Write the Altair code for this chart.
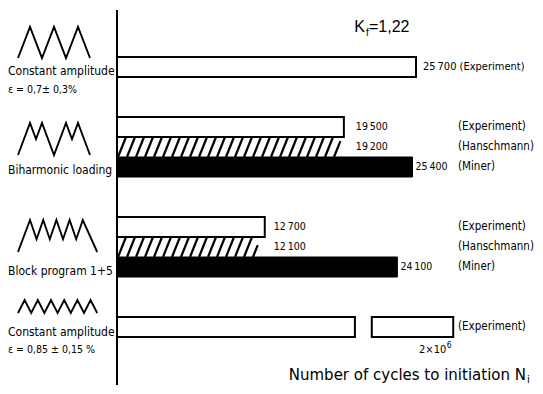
import altair as alt
import pandas as pd

# ---------------- data ----------------
group_names = ["Constant amplitude", "Biharmonic loading", "Block program 1+5", "Constant amplitude"]
group_notes = ["\u03b5 = 0,7\u00b1 0,3%", "", "", "\u03b5 = 0,85 \u00b1 0,15 %"]
series_names = ["Experiment", "Hanschmann", "Miner"]

ca07_cycles = [25700]                       # Experiment
biharmonic_cycles = [19500, 19200, 25400]   # Experiment, Hanschmann, Miner
block_cycles = [12700, 12100, 24100]        # Experiment, Hanschmann, Miner
ca085_mant, ca085_exp = "2\u00d710", "6"    # Experiment: 2x10^6, off scale (broken bar)

kf_text = "=1,22"
x_title_text = "Number of cycles to initiation N"

# load-sequence sketches: (time, relative level)
wave_ca07_t = [0, 2, 4, 6, 8, 10, 12]
wave_ca07_l = [0, 1, 0, 1, 0, 1, 0]
wave_bih_t = [0, 2, 3, 4, 6, 8, 9, 10, 12]
wave_bih_l = [0, 1, 0.5, 1, 0, 1, 0.5, 1, 0]
wave_blk_t = [0, 2, 3.1, 4.2, 5.3, 6.4, 7.5, 8.6, 9.7, 10.8, 13.2]
wave_blk_l = [0, 1, 0.4, 1, 0.4, 1, 0.4, 1, 0.4, 1, 0]
wave_ca085_t = [0, 1.1, 2.2, 3.3, 4.4, 5.5, 6.6, 7.7, 8.8, 9.9, 11, 12.1, 13.2]
wave_ca085_l = [0, 1, 0, 1, 0, 1, 0, 1, 0, 1, 0, 1, 0]

# ---------------- layout ----------------
W, H = 527, 378
PX_PER_CYC = 299 / 25700.0
K = 1 / PX_PER_CYC                 # cycles per pixel
X_SCALE = alt.Scale(domain=[0, 25700], range=[109, 408], nice=False, zero=False)
Y_SCALE = alt.Scale(domain=[0, 14], range=[49, 329], nice=False, zero=False)  # slot units, 20px each
ICON_X = alt.Scale(domain=[0, 13.2], range=[10, 10 + 13.2 * 6], nice=False, zero=False)

group_slot = [0, 3, 8, 13]
break_segments = [(0, 20450), (21900, 28900)]
COND = "DejaVu Sans Condensed, Liberation Sans Narrow, DejaVu Sans"

# ---------------- tables ----------------
bars = []
bars.append(dict(kind="Experiment", x0=0, x1=ca07_cycles[0], s0=group_slot[0], s1=group_slot[0] + 1))
for g, vals in ((1, biharmonic_cycles), (2, block_cycles)):
    for i, (sname, v) in enumerate(zip(series_names, vals)):
        bars.append(dict(kind=sname, x0=0, x1=v, s0=group_slot[g] + i, s1=group_slot[g] + i + 1))
for a, b in break_segments:
    bars.append(dict(kind="Experiment", x0=a, x1=b, s0=group_slot[3], s1=group_slot[3] + 1))
bars = pd.DataFrame(bars)

# hatching for the Hanschmann bars
hatch = []
spacing, slant = 9 * K, 8 * K
for _, r in bars[bars.kind == "Hanschmann"].iterrows():
    val, top, bot = r.x1, r.s0, r.s1
    b = -slant
    while b < val:
        xa, sa, xb, sb = b, bot, b + slant, top
        if xa < 0:
            f = -b / slant
            xa, sa = 0, bot - f * (bot - top)
        if xb > val:
            f = (val - b) / slant
            xb, sb = val, bot - f * (bot - top)
        if xb > xa:
            hatch.append(dict(xa=xa, sa=sa, xb=xb, sb=sb))
        b += spacing
hatch = pd.DataFrame(hatch)

def fmt(v):
    return f"{v:,}".replace(",", "\u2009")

# value labels
vlab = []
for g, vals, off in ((1, biharmonic_cycles, 12), (2, block_cycles, 9)):
    anchor = max(vals[0], vals[1]) + off * K
    vlab.append(dict(text=fmt(vals[0]), xc=anchor, s=group_slot[g] + 0.5))
    vlab.append(dict(text=fmt(vals[1]), xc=anchor, s=group_slot[g] + 1.5))
    vlab.append(dict(text=fmt(vals[2]), xc=vals[2] + 3 * K, s=group_slot[g] + 2.5))
vlab = pd.DataFrame(vlab)
vlab1 = pd.DataFrame([dict(text=f"{fmt(ca07_cycles[0])}  ({series_names[0]})",
                           xc=ca07_cycles[0] + 7 * K, s=group_slot[0] + 0.5)])

# series labels (right-hand column)
slab = []
col = 341 * K
for g in (1, 2):
    for i, sname in enumerate(series_names):
        slab.append(dict(text=f"({sname})", xc=col, s=group_slot[g] + i + 0.5))
slab.append(dict(text=f"({series_names[0]})", xc=col, s=group_slot[3] + 0.5))
slab = pd.DataFrame(slab)

# waveform icons
wave_base = [0.05, 4.9, 9.75, 12.8]
wave_amp = [1.55, 1.6, 1.6, 0.65]
waves = []
for w, (ts, ls) in enumerate([(wave_ca07_t, wave_ca07_l), (wave_bih_t, wave_bih_l),
                              (wave_blk_t, wave_blk_l), (wave_ca085_t, wave_ca085_l)]):
    for i, (t, l) in enumerate(zip(ts, ls)):
        waves.append(dict(w=w, i=i, t=t, s=wave_base[w] - l * wave_amp[w]))
waves = pd.DataFrame(waves)

# left labels
left_names = pd.DataFrame([dict(text=group_names[g], s=s)
                           for g, s in enumerate([0.9, 5.85, 10.9, 13.95])])
left_notes = pd.DataFrame([dict(text=group_notes[g], s=s)
                           for g, s in ((0, 1.8), (3, 14.8))])

axis_df = pd.DataFrame([dict(x=0, s0=-2.35, s1=16.4)])

# ---------------- layers ----------------
xq = lambda f: alt.X(f, type="quantitative", scale=X_SCALE, axis=None)
yq = lambda f: alt.Y(f, type="quantitative", scale=Y_SCALE, axis=None)

exp_layer = alt.Chart(bars[bars.kind == "Experiment"]).mark_rect(
    fill="white", stroke="black", strokeWidth=2).encode(
    x=xq("x0"), x2="x1", y=yq("s0"), y2="s1")
miner_layer = alt.Chart(bars[bars.kind == "Miner"]).mark_rect(
    fill="black", stroke="black", strokeWidth=1).encode(
    x=xq("x0"), x2="x1", y=yq("s0"), y2="s1")
hatch_layer = alt.Chart(hatch).mark_rule(color="black", strokeWidth=2.2).encode(
    x=xq("xa"), x2="xb", y=yq("sa"), y2="sb")
axis_layer = alt.Chart(axis_df).mark_rule(color="black", strokeWidth=2).encode(
    x=xq("x"), y=yq("s0"), y2="s1")

vlab_layer = alt.Chart(vlab).mark_text(
    align="left", baseline="middle", font=COND, fontSize=10.5, color="black").encode(
    x=xq("xc"), y=yq("s"), text="text:N")
vlab1_layer = alt.Chart(vlab1).mark_text(
    align="left", baseline="middle", font=COND, fontSize=11, color="black").encode(
    x=xq("xc"), y=yq("s"), text="text:N")
slab_layer = alt.Chart(slab).mark_text(
    align="left", baseline="middle", font=COND, fontSize=11.5, color="black").encode(
    x=xq("xc"), y=yq("s"), text="text:N")
brk_df = pd.DataFrame([dict(m=ca085_mant, e=ca085_exp, xc=break_segments[1][1], s=group_slot[3] + 1.8)])
brk_mant = alt.Chart(brk_df).mark_text(
    align="right", baseline="alphabetic", font=COND, fontSize=11, color="black", dx=-7).encode(
    x=xq("xc"), y=yq("s"), text="m:N")
brk_exp = alt.Chart(brk_df).mark_text(
    align="left", baseline="alphabetic", font=COND, fontSize=8.5, color="black", dx=-6.5, dy=-5).encode(
    x=xq("xc"), y=yq("s"), text="e:N")

wave_layer = alt.Chart(waves).mark_line(color="black", strokeWidth=1.9, strokeJoin="miter").encode(
    x=alt.X("t:Q", scale=ICON_X, axis=None), y=yq("s"), detail="w:N", order="i:Q")

left_layer = alt.Chart(left_names).mark_text(
    align="left", baseline="alphabetic", font=COND, fontSize=12, color="black").encode(
    x=alt.value(0), y=yq("s"), text="text:N")
note_layer = alt.Chart(left_notes).mark_text(
    align="left", baseline="alphabetic", font=COND, fontSize=10.5, color="black").encode(
    x=alt.value(0), y=yq("s"), text="text:N")

def ann(text, x, y, size, align="left", font="Liberation Sans"):
    return alt.Chart(pd.DataFrame([dict(text=text)])).mark_text(
        align=align, baseline="alphabetic", font=font, fontSize=size, color="black").encode(
        x=alt.value(x), y=alt.value(y), text="text:N")

title_k = ann("K", 357, 24, 16, align="right")
title_f = ann("f", 358, 28, 10)
title_v = ann(kf_text, 361, 24, 16)
xt_main = ann(x_title_text, 518, 372, 15, align="right", font="DejaVu Sans")
xt_sub = ann("i", 519, 375, 10, font="DejaVu Sans")

chart = alt.layer(
    exp_layer, hatch_layer, miner_layer, axis_layer, wave_layer,
    vlab_layer, vlab1_layer, slab_layer, brk_mant, brk_exp, left_layer, note_layer,
    title_k, title_f, title_v, xt_main, xt_sub,
).resolve_scale(x="independent").properties(
    width=W, height=H, padding=0, autosize=alt.AutoSizeParams(type="none"),
    background="white",
).configure_view(stroke=None)

chart.save("out.html", embed_options={"renderer": "svg", "actions": False})
